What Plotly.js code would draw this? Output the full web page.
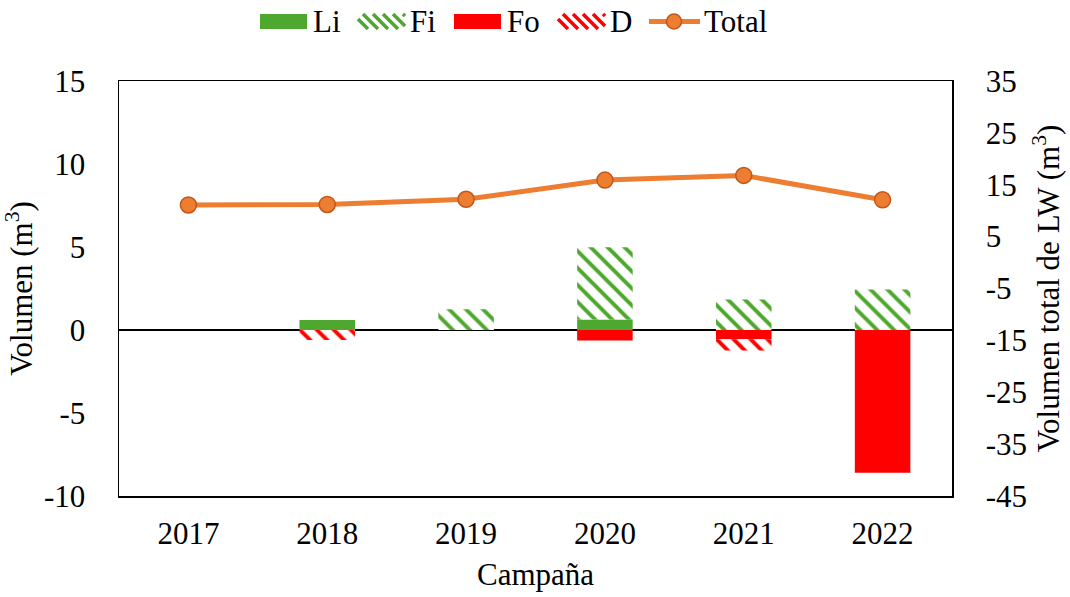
<!DOCTYPE html>
<html>
<head>
    <script src="https://cdn.plot.ly/plotly-3.0.1.min.js"></script>
    <style>
        body { margin: 0; background: #fff; }
        #chart { width: 1070px; height: 597px; }
    </style>
</head>
<body>
    <div id="chart"></div>
    <script>
        // campaign years
        const years = ['2017', '2018', '2019', '2020', '2021', '2022'];

        // volumes (m3), left axis
        const li = [0, 0.6, 0, 0.63, 0, 0];
        const fi = [0, 0, 1.25, 4.35, 1.84, 2.44];
        const fo = [0, 0, 0, -0.63, -0.55, -8.6];
        const d = [0, -0.6, 0, 0, -0.68, 0];

        // total LW volume (m3), right axis
        const total = [11.1, 11.2, 12.2, 15.9, 16.8, 12.1];

        // tick labels (plain hyphen like the original)
        const leftTicks = [-10, -5, 0, 5, 10, 15];
        const rightTicks = [-45, -35, -25, -15, -5, 5, 15, 25, 35];

        const green = '#4EA72E';
        const red = '#FF0000';
        const orange = '#ED7D31';
        const serif = "'Liberation Serif', 'Times New Roman', serif";
        const fs = 31;

        const data = [
            { x: years, y: li, type: 'bar', name: 'Li', marker: { color: green } },
            {
                x: years, y: fi, type: 'bar', name: 'Fi',
                marker: { color: 'white', pattern: { shape: '\\', fgcolor: green, bgcolor: 'white', size: 12, solidity: 0.33 } }
            },
            { x: years, y: fo, type: 'bar', name: 'Fo', marker: { color: red } },
            {
                x: years, y: d, type: 'bar', name: 'D',
                marker: { color: 'white', pattern: { shape: '\\', fgcolor: red, bgcolor: 'white', size: 12, solidity: 0.33 } }
            },
            {
                x: years, y: total, type: 'scatter', mode: 'lines+markers', name: 'Total',
                yaxis: 'y2',
                line: { color: orange, width: 5 },
                marker: { color: orange, size: 16, line: { color: '#C0561A', width: 1.5 } }
            }
        ];

        // hand-made legend above the plot (pixel positions -> paper coords)
        const L = 119, W = 833, B = 496, H = 415;
        const px = v => (v - L) / W;
        const py = v => (B - v) / H;
        const shapes = [];
        const annotations = [];
        const legTop = 14, legBot = 29, legMid = 21.5;

        function solidBox(x0, color) {
            shapes.push({ type: 'rect', xref: 'paper', yref: 'paper', x0: px(x0), x1: px(x0 + 47),
                y0: py(legBot), y1: py(legTop), fillcolor: color, line: { width: 0 } });
        }
        function hatchBox(x0, color) {
            const x1 = x0 + 47, h = legBot - legTop;
            for (let s = x0 - h; s < x1; s += 10) {
                // segment from (s, legTop) to (s + h, legBot), clipped to box
                let ax = s, ay = legTop, bx = s + h, by = legBot;
                if (ax < x0) { ay += x0 - ax; ax = x0; }
                if (bx > x1) { by -= bx - x1; bx = x1; }
                if (bx - ax < 2) continue;
                shapes.push({ type: 'line', xref: 'paper', yref: 'paper', x0: px(ax), y0: py(ay),
                    x1: px(bx), y1: py(by), line: { color: color, width: 3.5 } });
            }
        }
        function label(x, txt) {
            annotations.push({ xref: 'paper', yref: 'paper', x: px(x), y: py(legMid), xanchor: 'left', yanchor: 'middle',
                text: txt, showarrow: false, font: { family: serif, size: fs, color: '#000' } });
        }
        solidBox(260, green); label(311, 'Li');
        hatchBox(358, green); label(408, 'Fi');
        solidBox(454, red); label(505, 'Fo');
        hatchBox(558, red); label(608, 'D');
        shapes.push({ type: 'line', xref: 'paper', yref: 'paper', x0: px(649), x1: px(700), y0: py(legMid), y1: py(legMid),
            line: { color: orange, width: 5 } });
        shapes.push({ type: 'circle', xref: 'paper', yref: 'paper', xsizemode: 'pixel', ysizemode: 'pixel',
            xanchor: px(674), yanchor: py(legMid), x0: -7.5, x1: 7.5, y0: -7.5, y1: 7.5,
            fillcolor: orange, line: { color: '#C0561A', width: 1.5 } });
        label(702, 'Total');

        const layout = {
            width: 1070,
            height: 597,
            margin: { l: 119, r: 118, t: 81, b: 101 },
            paper_bgcolor: 'white',
            plot_bgcolor: 'white',
            font: { family: serif, size: fs, color: '#000' },
            barmode: 'relative',
            bargap: 0.6,
            showlegend: false,
            shapes: shapes,
            annotations: annotations,
            xaxis: {
                title: { text: 'Campaña', font: { family: serif, size: fs }, standoff: 13 },
                showline: true, linecolor: '#000', linewidth: 1.5, mirror: true,
                ticks: '', showgrid: false, ticklabelstandoff: 9,
                tickfont: { family: serif, size: fs }
            },
            yaxis: {
                title: { text: 'Volumen (m<sup>3</sup>)', font: { family: serif, size: fs }, standoff: 3 },
                range: [-10, 15],
                tickvals: leftTicks, ticktext: leftTicks.map(String),
                showline: true, linecolor: '#000', linewidth: 1.5,
                ticks: '', showgrid: false, ticklabelstandoff: 26,
                zeroline: true, zerolinecolor: '#000', zerolinewidth: 2,
                layer: 'above traces',
                tickfont: { family: serif, size: fs }
            },
            yaxis2: {
                title: { text: 'Volumen total de LW (m<sup>3</sup>)', font: { family: serif, size: fs }, standoff: 6 },
                overlaying: 'y', side: 'right',
                range: [-45, 35],
                tickvals: rightTicks, ticktext: rightTicks.map(String),
                showline: true, linecolor: '#000', linewidth: 1.5,
                ticks: '', showgrid: false, zeroline: false, ticklabelstandoff: 26,
                tickfont: { family: serif, size: fs }
            }
        };

        Plotly.newPlot('chart', data, layout, { displayModeBar: false, staticPlot: true });
    </script>
</body>
</html>
